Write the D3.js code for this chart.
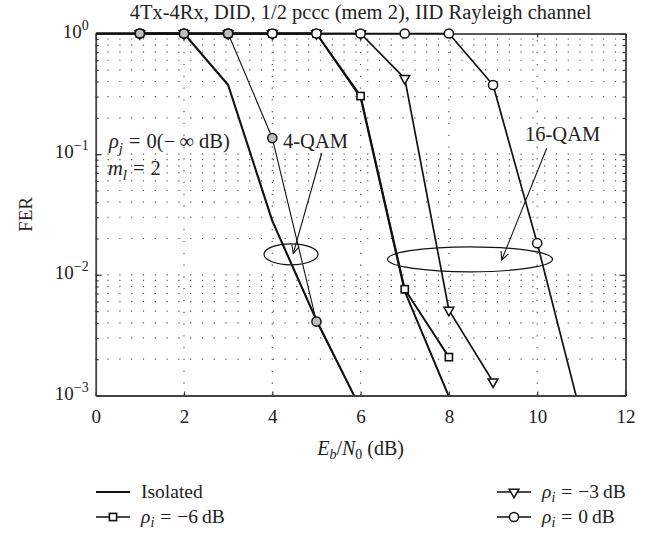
<!DOCTYPE html>
<html><head><meta charset="utf-8">
<script src="https://cdn.jsdelivr.net/npm/d3@7"></script>
<style>
body{margin:0;background:#fff}
svg{display:block}
text{font-family:"Liberation Serif","Times New Roman",serif;fill:#222}
</style>
</head><body>
<svg id="c" width="649" height="535"></svg>
<script>
// ---------- data ----------
const titleText = "4Tx-4Rx, DID, 1/2 pccc (mem 2), IID Rayleigh channel";
const xTicks = [0, 2, 4, 6, 8, 10, 12];
const yMajor = [1, 0.1, 0.01, 0.001];
const yExp = ["0", "\u22121", "\u22122", "\u22123"];

// 4-QAM
const snr4Iso = [0, 1, 2, 3, 4, 5, 6];
const fer4Iso = [1, 1, 1, 0.374, 0.028, 0.0042, 0.00078];
const snr4Rho0 = [1, 2, 3, 4, 5, 6];
const fer4Rho0 = [1, 1, 1, 0.136, 0.0041, 0.00078];

// 16-QAM
const snr16Iso = [0, 1, 2, 3, 4, 5, 6, 7, 8];
const fer16Iso = [1, 1, 1, 1, 1, 1, 0.295, 0.0073, 0.00098];
const snr16M6 = [1, 2, 3, 4, 5, 6, 7, 8];
const fer16M6 = [1, 1, 1, 1, 1, 0.303, 0.0076, 0.00208];
const snr16M3 = [1, 2, 3, 4, 5, 6, 7, 8, 9];
const fer16M3 = [1, 1, 1, 1, 1, 1, 0.425, 0.0051, 0.0013];
const snr16R0 = [1, 2, 3, 4, 5, 6, 7, 8, 9, 10, 11];
const fer16R0 = [1, 1, 1, 1, 1, 1, 1, 1, 0.374, 0.0183, 0.00067];

const legendLabels = ["Isolated", "\u22126", "\u22123", "0"];

// ---------- layout ----------
const svg = d3.select("#c");
const L = 95.7, R = 625.5, T = 33.5, B = 395.5;
const x = d3.scaleLinear().domain([0, 12]).range([L, R]);
const y = d3.scaleLog().domain([1e-3, 1]).range([B, T]);

const zip = (a, b) => a.map((v, i) => [v, b[i]]);

// grid values
const minorVals = [];
[-3, -2, -1].forEach(e => { for (let m = 1; m <= 9; m++) { const v = m * Math.pow(10, e); if (v > 1.0001e-3 && v < 0.9999) minorVals.push(v); } });
const gridX = xTicks.filter(d => d > 0 && d < 12);

const grid = svg.append("g").attr("stroke", "#555").attr("stroke-width", 1.2).attr("stroke-dasharray", "1.2,10.6");
grid.selectAll("line.h").data(minorVals).enter().append("line")
  .attr("x1", L).attr("x2", R).attr("y1", d => y(d)).attr("y2", d => y(d));
grid.selectAll("line.v").data(gridX).enter().append("line")
  .attr("x1", d => x(d)).attr("x2", d => x(d)).attr("y1", B).attr("y2", T);

// axes frame via d3 axes
const axB = svg.append("g").attr("transform", `translate(0,${B})`)
  .call(d3.axisBottom(x).tickValues(xTicks).tickSizeInner(-4).tickSizeOuter(0).tickPadding(14).tickFormat(d3.format("d")));
axB.select(".domain").attr("stroke", "#444").attr("stroke-width", 1.8);
axB.selectAll(".tick line").attr("stroke", "#333").attr("stroke-width", 1.2);
axB.selectAll("text").attr("font-size", 19).attr("font-family", "Liberation Serif").attr("fill", "#222");

const axT = svg.append("g").attr("transform", `translate(0,${T})`)
  .call(d3.axisTop(x).tickValues(xTicks).tickSizeInner(-4).tickSizeOuter(0).tickFormat(""));
axT.select(".domain").attr("stroke", "#222").attr("stroke-width", 1.4);
axT.selectAll(".tick line").attr("stroke", "#333").attr("stroke-width", 1.2);

const axL = svg.append("g").attr("transform", `translate(${L},0)`)
  .call(d3.axisLeft(y).tickValues(yMajor).tickSizeInner(-6).tickSizeOuter(0).tickPadding(8).tickFormat(""));
axL.select(".domain").attr("stroke", "#444").attr("stroke-width", 1.8);
axL.selectAll(".tick line").attr("stroke", "#333").attr("stroke-width", 1.2);
const axLm = svg.append("g").attr("transform", `translate(${L},0)`)
  .call(d3.axisLeft(y).tickValues(minorVals).tickSizeInner(-3).tickSizeOuter(0).tickFormat(""));
axLm.select(".domain").remove();
axLm.selectAll(".tick line").attr("stroke", "#333").attr("stroke-width", 1.1);

const axR = svg.append("g").attr("transform", `translate(${R},0)`)
  .call(d3.axisRight(y).tickValues(yMajor).tickSizeInner(-6).tickSizeOuter(0).tickFormat(""));
axR.select(".domain").attr("stroke", "#222").attr("stroke-width", 1.6);
axR.selectAll(".tick line").attr("stroke", "#333").attr("stroke-width", 1.2);
const axRm = svg.append("g").attr("transform", `translate(${R},0)`)
  .call(d3.axisRight(y).tickValues(minorVals).tickSizeInner(-3).tickSizeOuter(0).tickFormat(""));
axRm.select(".domain").remove();
axRm.selectAll(".tick line").attr("stroke", "#333").attr("stroke-width", 1.1);

// y tick labels with superscripts
yMajor.forEach((v, i) => {
  const t = svg.append("text").attr("x", L - 7).attr("y", y(v) + 4).attr("text-anchor", "end").attr("font-size", 19);
  t.append("tspan").text("10");
  t.append("tspan").attr("dy", -8).attr("font-size", 14).text(yExp[i]);
});

// title & labels
svg.append("text").attr("x", (L + R) / 2).attr("y", 19).attr("text-anchor", "middle").attr("font-size", 20.5).text(titleText);
svg.append("text").attr("transform", `translate(32,${(T + B) / 2}) rotate(-90)`).attr("text-anchor", "middle").attr("font-size", 19).text("FER");
const xl = svg.append("text").attr("x", (L + R) / 2).attr("y", 455).attr("text-anchor", "middle").attr("font-size", 20);
xl.append("tspan").attr("font-style", "italic").text("E");
xl.append("tspan").attr("font-style", "italic").attr("font-size", 14).attr("dy", 4).text("b");
xl.append("tspan").attr("dy", -4).text("/");
xl.append("tspan").attr("font-style", "italic").text("N");
xl.append("tspan").attr("font-size", 14).attr("dy", 4).text("0");
xl.append("tspan").attr("dy", -4).text(" (dB)");

// ---------- data lines ----------
svg.append("defs").append("clipPath").attr("id", "clip").append("rect")
  .attr("x", L).attr("y", 0).attr("width", R - L + 10).attr("height", B);
const plot = svg.append("g").attr("clip-path", "url(#clip)");
const line = d3.line().x(d => x(d[0])).y(d => y(d[1]));

const series = [
  {pts: zip(snr16Iso, fer16Iso), w: 2.0, m: null},
  {pts: zip(snr16M6, fer16M6), w: 1.9, m: "sq"},
  {pts: zip(snr16M3, fer16M3), w: 1.7, m: "tri"},
  {pts: zip(snr16R0, fer16R0), w: 1.7, m: "circ", fill: "#fff"},
  {pts: zip(snr4Iso, fer4Iso), w: 2.1, m: null},
  {pts: zip(snr4Rho0, fer4Rho0), w: 1.1, m: "circ", fill: "#bdbdbd"}
];
series.forEach(s => {
  plot.append("path").attr("d", line(s.pts)).attr("fill", "none").attr("stroke", "#111").attr("stroke-width", s.w).attr("stroke-linejoin", "round");
});

function drawMarker(g, type, cx, cy, fill) {
  if (type === "sq") {
    g.append("rect").attr("x", cx - 3.6).attr("y", cy - 3.6).attr("width", 7.2).attr("height", 7.2)
      .attr("fill", "#fff").attr("stroke", "#111").attr("stroke-width", 1.6);
  } else if (type === "tri") {
    g.append("path").attr("d", d3.symbol().type(d3.symbolTriangle).size(42)())
      .attr("transform", `translate(${cx},${cy}) rotate(180)`)
      .attr("fill", "#fff").attr("stroke", "#111").attr("stroke-width", 1.5);
  } else if (type === "circ") {
    g.append("circle").attr("cx", cx).attr("cy", cy).attr("r", 4.6)
      .attr("fill", fill).attr("stroke", "#111").attr("stroke-width", 1.5);
  }
}
const mk = svg.append("g").attr("clip-path", "url(#clip2)");
svg.select("defs").append("clipPath").attr("id", "clip2").append("rect")
  .attr("x", 0).attr("y", 0).attr("width", 649).attr("height", B);
series.filter(s => s.m).forEach(s => {
  s.pts.forEach(p => drawMarker(mk, s.m, x(p[0]), y(p[1]), s.fill));
});

// ---------- annotations ----------
const a1 = svg.append("text").attr("x", 109).attr("y", 148).attr("font-size", 20.5);
a1.append("tspan").attr("font-style", "italic").text("\u03C1");
a1.append("tspan").attr("font-style", "italic").attr("font-size", 15).attr("dy", 5).text("j");
a1.append("tspan").attr("dy", -5).attr("dx", 6).text("=");
a1.append("tspan").attr("dx", 6).text("0(\u2212\u2009\u221E dB)");
const a2 = svg.append("text").attr("x", 108).attr("y", 175).attr("font-size", 20.5);
a2.append("tspan").attr("font-style", "italic").text("m");
a2.append("tspan").attr("font-style", "italic").attr("font-size", 15).attr("dy", 5).text("l");
a2.append("tspan").attr("dy", -5).attr("dx", 6).text("=");
a2.append("tspan").attr("dx", 6).text("2");
svg.append("text").attr("x", 283).attr("y", 148).attr("font-size", 20.5).text("4-QAM");
svg.append("text").attr("x", 525).attr("y", 141).attr("font-size", 20.5).text("16-QAM");

function arrow(x1, y1, x2, y2) {
  svg.append("line").attr("x1", x1).attr("y1", y1).attr("x2", x2).attr("y2", y2).attr("stroke", "#111").attr("stroke-width", 1.1);
  const ang = Math.atan2(y1 - y2, x1 - x2), len = 9, sp = 0.45;
  const p = [[x2 + len * Math.cos(ang + sp), y2 + len * Math.sin(ang + sp)], [x2, y2], [x2 + len * Math.cos(ang - sp), y2 + len * Math.sin(ang - sp)]];
  svg.append("path").attr("d", d3.line()(p)).attr("fill", "none").attr("stroke", "#111").attr("stroke-width", 1.1);
}
arrow(321.7, 153, 293.3, 253.3);
arrow(546.7, 148.3, 501.7, 260);
svg.append("ellipse").attr("cx", 291).attr("cy", 254.3).attr("rx", 27).attr("ry", 10.5).attr("fill", "none").attr("stroke", "#111").attr("stroke-width", 1.2);
svg.append("ellipse").attr("cx", 470).attr("cy", 259.3).attr("rx", 82.5).attr("ry", 12.5).attr("fill", "none").attr("stroke", "#111").attr("stroke-width", 1.2);

// ---------- legend ----------
const legItems = [
  {col: 0, row: 0, m: null, lab: 0},
  {col: 1, row: 0, m: "tri", lab: 2},
  {col: 0, row: 1, m: "sq", lab: 1},
  {col: 1, row: 1, m: "circ", lab: 3}
];
const colX = [96, 497], rowY = [492, 517];
legItems.forEach(it => {
  const x0 = colX[it.col], yy = rowY[it.row];
  svg.append("line").attr("x1", x0).attr("x2", x0 + 34).attr("y1", yy).attr("y2", yy).attr("stroke", "#111").attr("stroke-width", it.m ? 1.6 : 2);
  if (it.m) drawMarker(svg, it.m, x0 + 17, yy, "#fff");
  const t = svg.append("text").attr("x", x0 + 45).attr("y", yy + 6).attr("font-size", 19.5);
  if (it.lab === 0) { t.text(legendLabels[0]); }
  else {
    t.append("tspan").attr("font-style", "italic").text("\u03C1");
    t.append("tspan").attr("font-style", "italic").attr("font-size", 14).attr("dy", 4).text("i");
    t.append("tspan").attr("dy", -4).attr("dx", 6).text("=");
    t.append("tspan").attr("dx", 6).text(legendLabels[it.lab] + "\u2009dB");
  }
});
</script>
</body></html>
